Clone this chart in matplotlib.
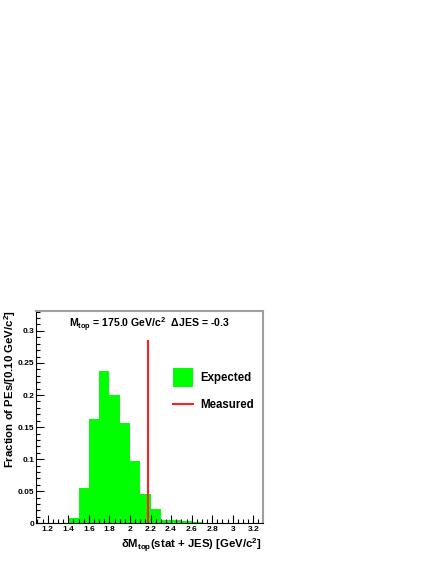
import numpy as np
import matplotlib
matplotlib.use("Agg")
import matplotlib.pyplot as plt
from matplotlib.patches import Rectangle
from matplotlib.ticker import MultipleLocator

plt.rcParams['font.family'] = ['Liberation Sans', 'DejaVu Sans']
plt.rcParams['font.weight'] = 'bold'
plt.rcParams['mathtext.fontset'] = 'custom'
plt.rcParams['mathtext.rm'] = 'Liberation Sans:bold'
plt.rcParams['mathtext.it'] = 'Liberation Sans:bold'
plt.rcParams['mathtext.bf'] = 'Liberation Sans:bold'
plt.rcParams['mathtext.default'] = 'rm'

# histogram of expected uncertainties, bins of 0.1 GeV/c^2
bin_edges = [1.4, 1.5, 1.6, 1.7, 1.8, 1.9, 2.0, 2.1, 2.2, 2.3, 2.4, 2.5, 2.6, 2.7, 2.8]
fractions = [0.0085, 0.0545, 0.162, 0.2375, 0.2, 0.156, 0.0965, 0.045, 0.022,
             0.0052, 0.005, 0.003, 0.0015, 0.0012]
measured = 2.173
measured_height = 0.284

fig = plt.figure(figsize=(4.36, 5.64), dpi=100)
ax = fig.add_axes([36 / 436, 1 - 523.3 / 564, 227 / 436, 212.3 / 564])

ax.stairs(fractions, bin_edges, fill=True, color='#00ff00', linewidth=0)
ax.plot([measured, measured], [0, measured_height], color='#ff2020', lw=1.5)

ax.set_xlim(1.086, 3.294)
ax.set_ylim(0, 0.331)

ax.xaxis.set_minor_locator(MultipleLocator(0.05))
ax.yaxis.set_minor_locator(MultipleLocator(0.01))
ax.set_xticks(np.arange(1.2, 3.21, 0.2))
ax.set_xticklabels(['1.2', '1.4', '1.6', '1.8', '2', '2.2', '2.4', '2.6', '2.8', '3', '3.2'])
ax.set_yticks([0, 0.05, 0.1, 0.15, 0.2, 0.25, 0.3])
ax.set_yticklabels(['0', '0.05', '0.1', '0.15', '0.2', '0.25', '0.3'])
ax.tick_params(which='both', direction='in', labelsize=6, color='black')
ax.tick_params(axis='y', pad=1)
ax.tick_params(axis='x', pad=2.2)
ax.tick_params(which='major', length=6, width=0.8)
ax.tick_params(which='minor', length=3, width=0.8)
for side in ['top', 'right']:
    ax.spines[side].set_color('#a0a0a0')
    ax.spines[side].set_linewidth(1.5)
for side in ['left', 'bottom']:
    ax.spines[side].set_linewidth(0.8)

fig.text(262 / 436, 1 - 546 / 564, r'$\delta$M$_{top}$(stat + JES) [GeV/c$^{2}$]',
         fontsize=8.2, fontweight='bold', ha='right', va='center')
fig.text(10.5 / 436, 1 - 310 / 564, r'Fraction of PEs/[0.10 GeV/c$^{2}$]',
         fontsize=8.2, fontweight='bold', ha='center', va='top', rotation=90)

ax.text(0.5, 0.935, r'M$_{top}$ = 175.0 GeV/c$^{2}$  $\Delta$JES = -0.3',
        transform=ax.transAxes, ha='center', va='center', fontsize=7.6,
        fontweight='bold')

# legend drawn by hand, ROOT style
ax.add_patch(Rectangle((0.604, 0.642), 0.088, 0.089, transform=ax.transAxes,
                       facecolor='#00ff00', edgecolor='none'))
ax.plot([0.604, 0.692], [0.562, 0.562], transform=ax.transAxes,
        color='#ff2020', lw=1.5)
ax.text(0.722, 0.684, 'Expected', transform=ax.transAxes, fontsize=8.3,
        fontweight='bold', va='center')
ax.text(0.722, 0.557, 'Measured', transform=ax.transAxes, fontsize=8.3,
        fontweight='bold', va='center')

fig.savefig('out.png', dpi=100)
